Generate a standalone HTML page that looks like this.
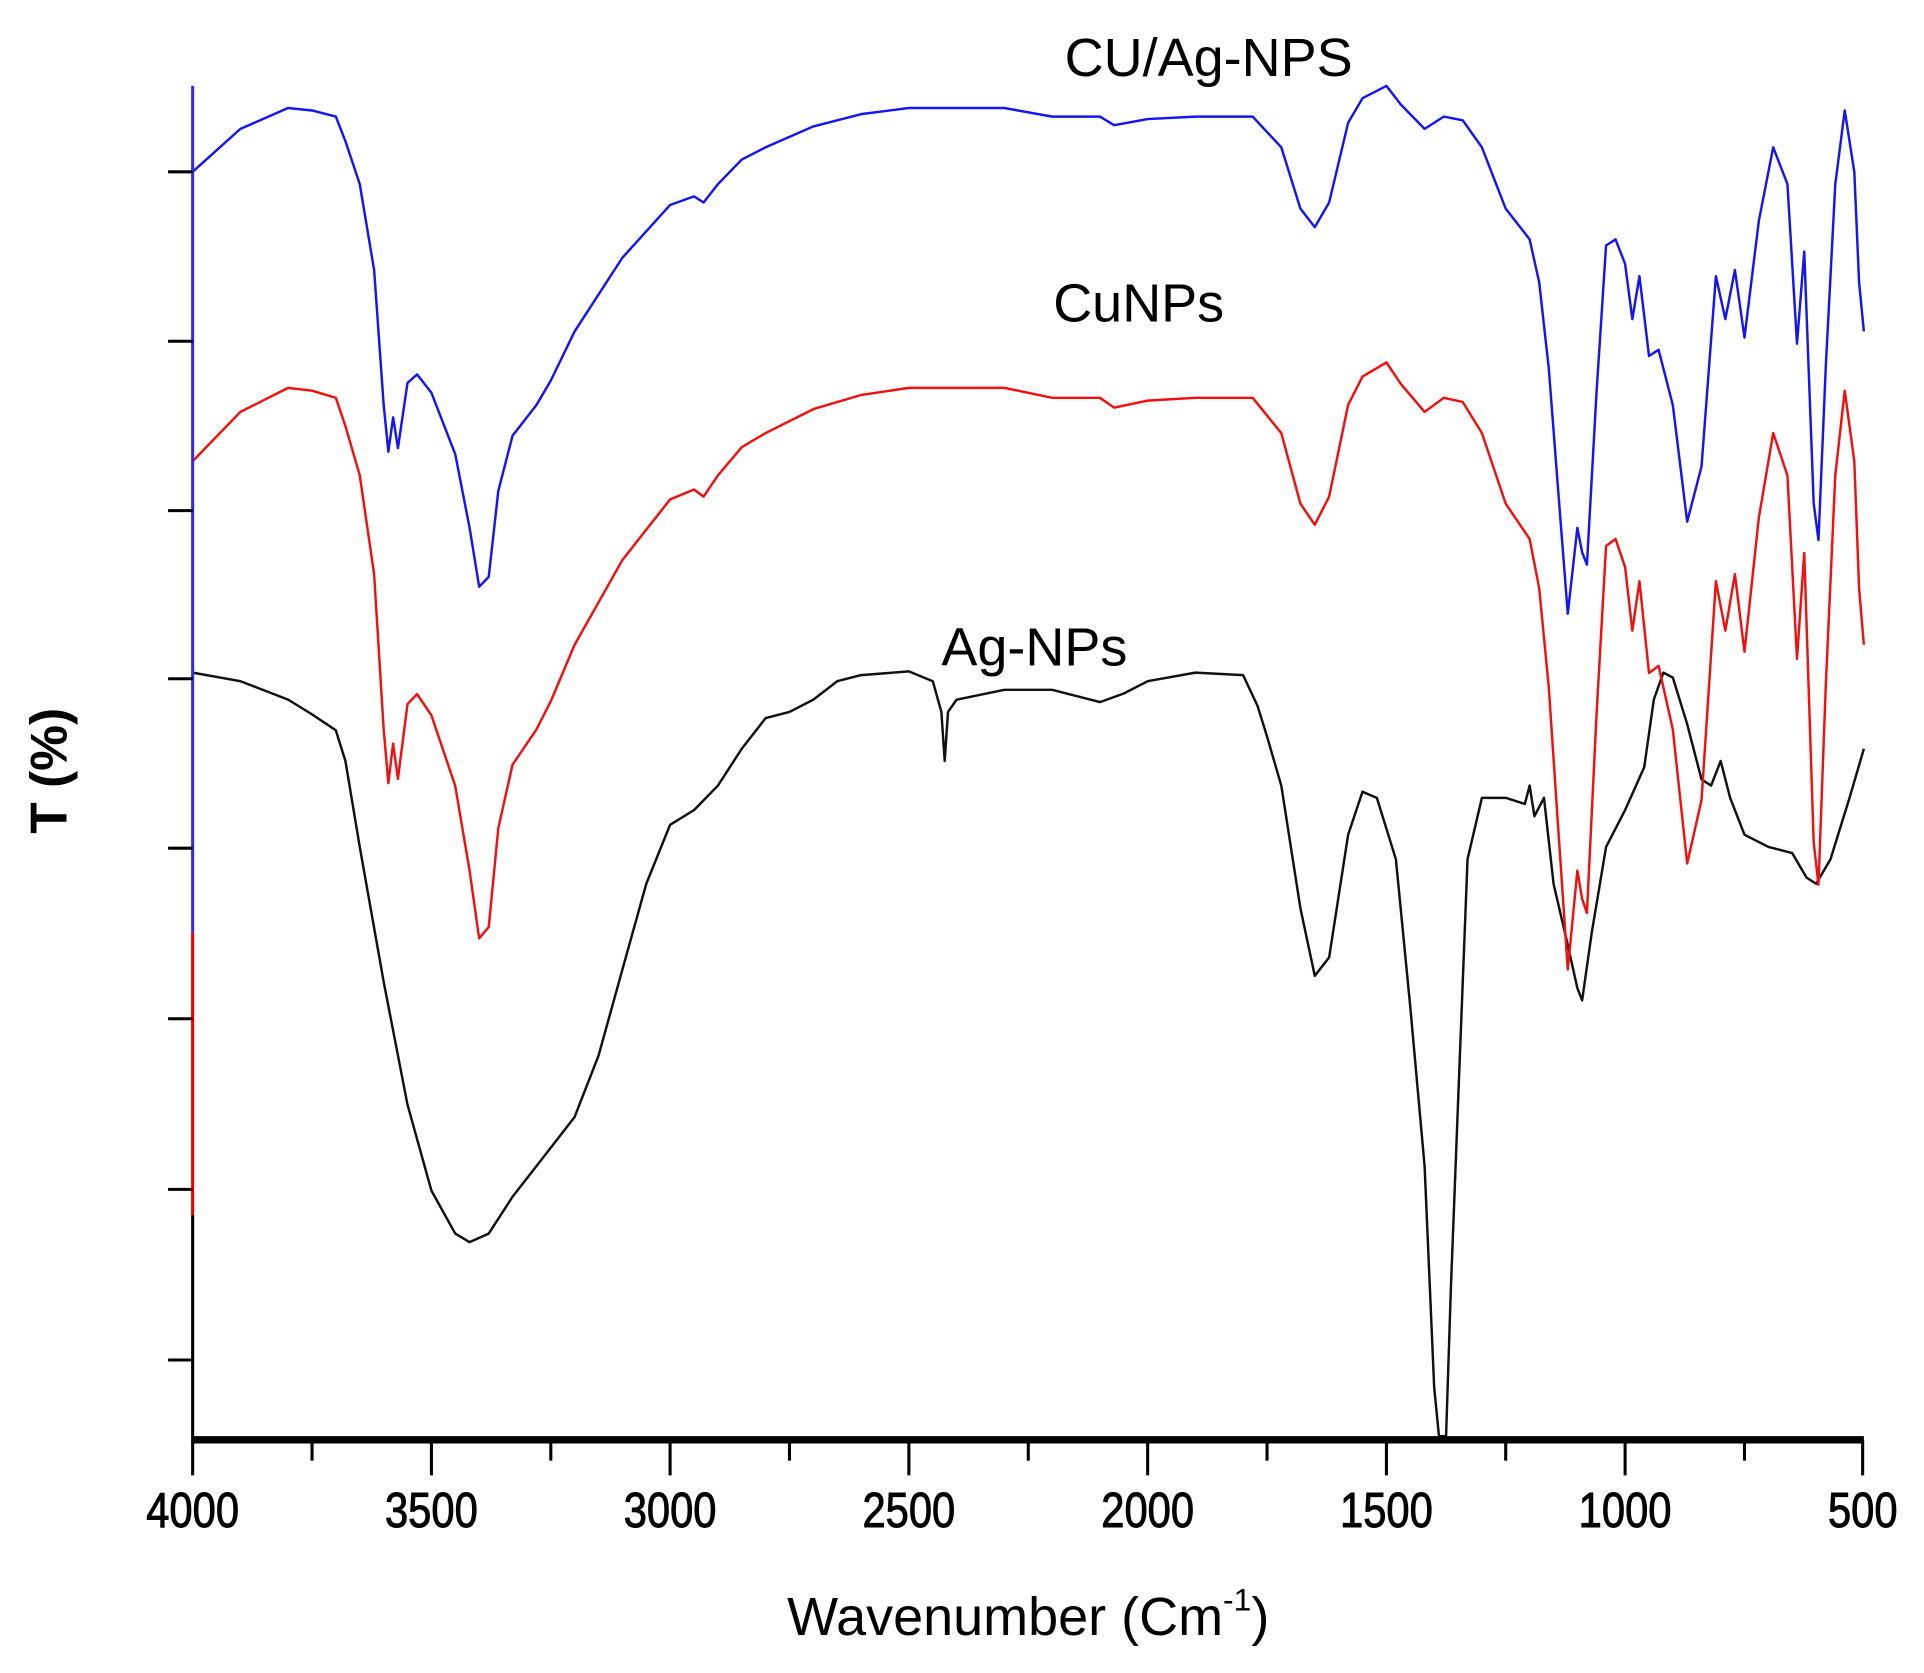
<!DOCTYPE html>
<html><head><meta charset="utf-8"><style>html,body{margin:0;padding:0;background:#fff}svg{display:block}</style></head>
<body>
<svg width="1924" height="1673" viewBox="0 0 1568 1363" preserveAspectRatio="none" xmlns="http://www.w3.org/2000/svg" font-family="Liberation Sans, Arial, sans-serif">
<rect width="1568" height="1363" fill="#fff"/>
<g id="curves" fill="none" stroke-width="2" stroke-linejoin="round"></g>
<line x1="157" y1="70" x2="157" y2="760" stroke="#3a2bd8" stroke-width="2.5"/>
<line x1="157" y1="760" x2="157" y2="990" stroke="#e00" stroke-width="2.5"/>
<line x1="157" y1="990" x2="157" y2="1175" stroke="#000" stroke-width="2.5"/>
<line x1="157" y1="1173" x2="1519" y2="1173" stroke="#000" stroke-width="6"/>
<g stroke="#000" stroke-width="2.5">
<line x1="137" y1="140" x2="157" y2="140"/><line x1="137" y1="278" x2="157" y2="278"/>
<line x1="137" y1="416" x2="157" y2="416"/><line x1="137" y1="553" x2="157" y2="553"/>
<line x1="137" y1="691" x2="157" y2="691"/><line x1="137" y1="830" x2="157" y2="830"/>
<line x1="137" y1="969" x2="157" y2="969"/><line x1="137" y1="1108" x2="157" y2="1108"/>
<line x1="157" y1="1173" x2="157" y2="1202"/><line x1="254.3" y1="1173" x2="254.3" y2="1190"/>
<line x1="351.6" y1="1173" x2="351.6" y2="1202"/><line x1="448.9" y1="1173" x2="448.9" y2="1190"/>
<line x1="546.1" y1="1173" x2="546.1" y2="1202"/><line x1="643.4" y1="1173" x2="643.4" y2="1190"/>
<line x1="740.7" y1="1173" x2="740.7" y2="1202"/><line x1="838" y1="1173" x2="838" y2="1190"/>
<line x1="935.3" y1="1173" x2="935.3" y2="1202"/><line x1="1032.6" y1="1173" x2="1032.6" y2="1190"/>
<line x1="1129.9" y1="1173" x2="1129.9" y2="1202"/><line x1="1227.1" y1="1173" x2="1227.1" y2="1190"/>
<line x1="1324.4" y1="1173" x2="1324.4" y2="1202"/><line x1="1421.7" y1="1173" x2="1421.7" y2="1190"/>
<line x1="1518" y1="1173" x2="1518" y2="1202"/>
</g>
<g font-size="40" text-anchor="middle" fill="#000" stroke="#000" stroke-width="0.8" transform="scale(0.85,1)">
<text x="184.7" y="1244">4000</text><text x="413.6" y="1244">3500</text>
<text x="642.5" y="1244">3000</text><text x="871.4" y="1244">2500</text>
<text x="1100.4" y="1244">2000</text><text x="1329.3" y="1244">1500</text>
<text x="1558.1" y="1244">1000</text><text x="1786" y="1244">500</text>
</g>
<text x="838" y="1332" font-size="44" text-anchor="middle">Wavenumber (Cm<tspan font-size="26" dy="-20">-1</tspan><tspan dy="20">)</tspan></text>
<text transform="translate(54,628) rotate(-90)" font-size="42" font-weight="bold" text-anchor="middle">T (%)</text>
<text x="985" y="62" font-size="44" text-anchor="middle">CU/Ag-NPS</text>
<text x="928" y="262" font-size="44" text-anchor="middle">CuNPs</text>
<text x="843" y="542" font-size="44" text-anchor="middle">Ag-NPs</text>
<script>
const X=w=>157+(4000-w)*1362/3500;
const blue=[[4000,140],[3900,105],[3800,88],[3750,90],[3700,95],[3680,115],[3650,150],[3620,220],[3600,330],[3590,368],[3580,340],[3570,365],[3550,312],[3530,305],[3500,320],[3450,370],[3420,430],[3400,478],[3380,470],[3360,400],[3330,355],[3280,330],[3250,310],[3200,270],[3100,210],[3000,167],[2950,160],[2930,165],[2900,150],[2850,130],[2800,120],[2700,103],[2600,93],[2500,88],[2300,88],[2200,95],[2100,95],[2070,102],[2000,97],[1900,95],[1780,95],[1720,120],[1680,170],[1650,185],[1620,165],[1580,100],[1550,80],[1500,70],[1470,85],[1420,105],[1380,95],[1340,98],[1300,120],[1250,170],[1200,195],[1180,230],[1160,300],[1140,400],[1120,500],[1100,430],[1090,450],[1080,460],[1060,320],[1040,200],[1020,195],[1000,215],[985,260],[970,225],[950,290],[930,285],[900,330],[870,425],[840,380],[810,225],[790,260],[770,220],[750,275],[720,180],[690,120],[660,150],[640,280],[625,205],[605,410],[595,440],[580,300],[560,150],[540,90],[520,140],[510,230],[500,270]];
const red=blue.map(([w,y])=>[w,316+(y-88)*1.15]);
const black=[[4000,548],[3900,555],[3800,570],[3750,582],[3700,595],[3680,620],[3650,690],[3600,800],[3550,900],[3500,970],[3450,1005],[3420,1012],[3380,1005],[3330,975],[3250,935],[3200,910],[3150,860],[3100,790],[3050,720],[3000,672],[2950,660],[2900,640],[2850,610],[2800,585],[2750,580],[2700,570],[2650,555],[2600,550],[2500,547],[2450,555],[2432,580],[2425,620],[2418,580],[2400,570],[2300,562],[2200,562],[2100,572],[2050,565],[2000,555],[1900,548],[1800,550],[1770,575],[1750,600],[1720,640],[1680,740],[1650,795],[1620,780],[1580,680],[1550,645],[1520,650],[1480,700],[1450,820],[1420,950],[1400,1130],[1390,1170],[1375,1170],[1365,1050],[1350,900],[1330,700],[1300,650],[1250,650],[1210,655],[1200,640],[1190,665],[1170,650],[1150,720],[1120,770],[1100,805],[1090,815],[1070,760],[1040,690],[1000,660],[960,625],[940,570],[920,548],[900,552],[870,590],[840,635],[820,640],[800,620],[780,650],[750,680],[700,690],[650,695],[620,715],[600,720],[570,700],[530,650],[500,610]];
const g=document.getElementById('curves');
function add(d,c){const p=document.createElementNS('http://www.w3.org/2000/svg','path');p.setAttribute('d','M'+d.map(([w,y])=>X(w).toFixed(1)+','+y.toFixed(1)).join('L'));p.setAttribute('stroke',c);g.appendChild(p);}
add(black,'#111');add(red,'#f01010');add(blue,'#1515f0');
</script>
</svg>
</body></html>
